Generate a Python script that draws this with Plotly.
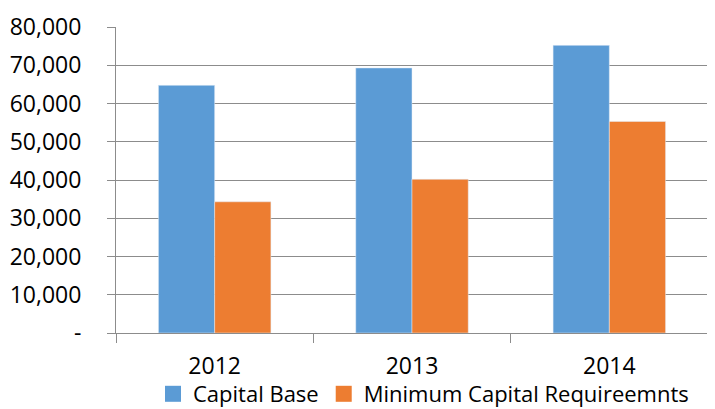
import plotly.graph_objects as go

years = ["2012", "2013", "2014"]
capital_base = [64750, 69300, 75200]
min_capital_req = [34300, 40200, 55300]
y_tick_vals = [0, 10000, 20000, 30000, 40000, 50000, 60000, 70000, 80000]
y_tick_text = ["-", "10,000", "20,000", "30,000", "40,000", "50,000", "60,000", "70,000", "80,000"]

font_family = "Open Sans"
grey = "#8c8c8c"
blue = "#5B9BD5"
orange = "#ED7D31"

# the page body adds an 8px offset, so the figure is sized to fill the rest of the window
W, H = 707, 401

fig = go.Figure()
fig.add_trace(go.Bar(x=years, y=capital_base, name="Capital Base", marker_color=blue,
                     showlegend=False))
fig.add_trace(go.Bar(x=years, y=min_capital_req, name="Minimum Capital Requireemnts",
                     marker_color=orange, showlegend=False))
# legend entries with larger square swatches
fig.add_trace(go.Scatter(x=[None], y=[None], mode="markers", name="Capital Base",
                         marker=dict(symbol="square", size=16, color=blue)))
fig.add_trace(go.Scatter(x=[None], y=[None], mode="markers", name="Minimum Capital Requireemnts",
                         marker=dict(symbol="square", size=16, color=orange)))

fig.update_layout(
    width=W, height=H,
    margin=dict(l=108, r=7, t=19, b=76, autoexpand=False),
    paper_bgcolor="white", plot_bgcolor="white",
    barmode="group", bargap=0.43, bargroupgap=0,
    font=dict(family=font_family, size=23, color="#000000"),
    showlegend=True,
    legend=dict(orientation="h", xref="container", yref="container",
                x=145 / W, xanchor="left", y=15 / H, yanchor="middle",
                font=dict(size=22), itemsizing="trace", tracegroupgap=0,
                bgcolor="rgba(0,0,0,0)"),
)
fig.update_xaxes(
    showline=True, linecolor=grey, linewidth=1,
    ticks="outside", tickson="boundaries", ticklen=9, tickcolor=grey,
    showgrid=False, tickfont=dict(size=23), ticklabelstandoff=12,
)
fig.update_yaxes(
    range=[0, 80000], tickvals=y_tick_vals, ticktext=y_tick_text,
    showline=True, linecolor=grey, linewidth=1,
    ticks="outside", ticklen=8, tickcolor=grey,
    showgrid=True, gridcolor=grey, gridwidth=1, zeroline=False,
    tickfont=dict(size=23), ticklabelstandoff=21,
)
fig.write_html("out.html")
